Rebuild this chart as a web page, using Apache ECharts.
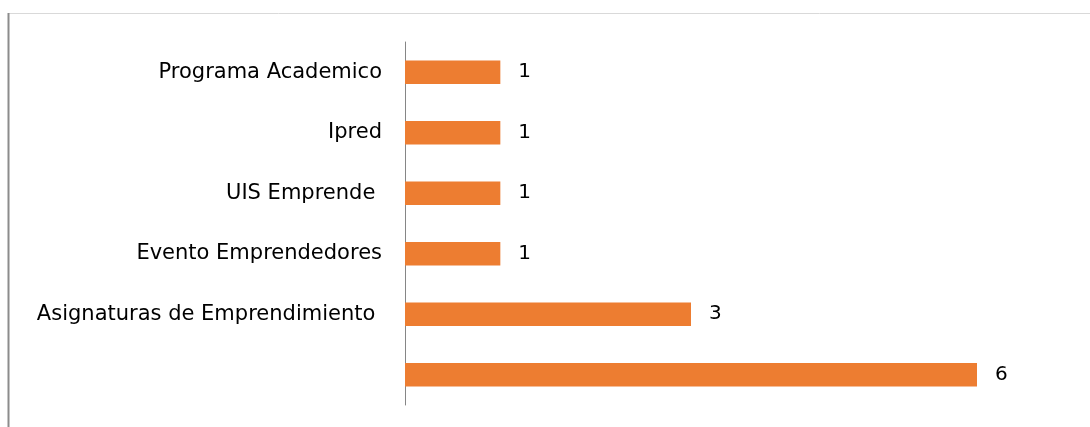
<!DOCTYPE html>
<html>
<head>
<meta charset="utf-8">
<script src="https://cdn.jsdelivr.net/npm/echarts@6/dist/echarts.min.js"></script>
<style>
  html, body { margin: 0; padding: 0; background: #fff; }
  #chart { width: 1090px; height: 427px; }
</style>
</head>
<body>
<div id="chart"></div>
<script>
// Categories listed bottom to top
const categories = ["", "Asignaturas de Emprendimiento ", "Evento Emprendedores", "UIS Emprende ", "Ipred", "Programa Academico"];
const values = [6, 3, 1, 1, 1, 1];

const chart = echarts.init(document.getElementById('chart'), null, { renderer: 'canvas' });
chart.setOption({
  animation: false,
  backgroundColor: '#ffffff',
  graphic: [
    { type: 'line', shape: { x1: 8, y1: 13.5, x2: 1090, y2: 13.5 }, style: { stroke: '#d9d9d9', lineWidth: 1 } },
    { type: 'line', shape: { x1: 8.5, y1: 13, x2: 8.5, y2: 427 }, style: { stroke: '#8c8c8c', lineWidth: 2 } }
  ],
  grid: { left: 405, right: 113, top: 42, bottom: 22, containLabel: false },
  xAxis: {
    type: 'value', min: 0, max: 6,
    show: false
  },
  yAxis: {
    type: 'category',
    data: categories,
    axisLine: { show: true, lineStyle: { color: '#868686', width: 1 } },
    axisTick: { show: false },
    axisLabel: { color: '#000000', fontSize: 21, fontFamily: 'DejaVu Sans', margin: 23 }
  },
  series: [{
    type: 'bar',
    data: values,
    barCategoryGap: '61%',
    itemStyle: { color: '#ED7D31' },
    label: { show: true, position: 'right', distance: 18, color: '#000000', fontSize: 20, fontFamily: 'DejaVu Sans' }
  }]
});
</script>
</body>
</html>
